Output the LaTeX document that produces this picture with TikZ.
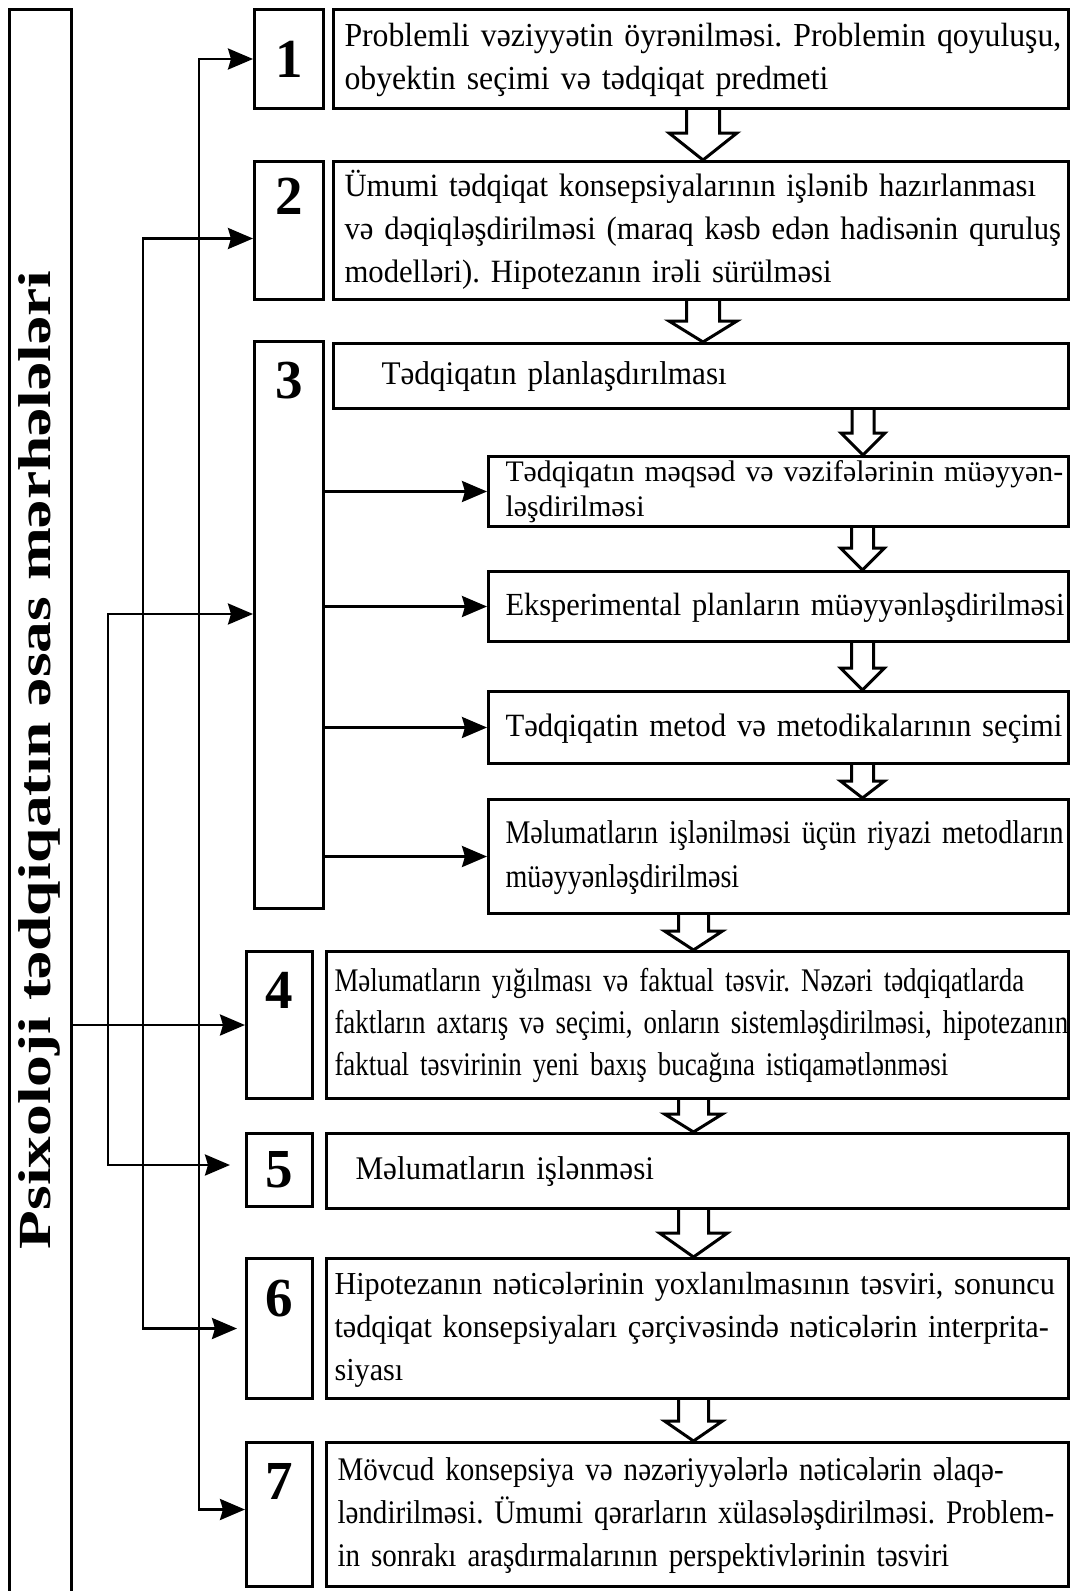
\documentclass[tikz,border=0pt]{standalone}
\usepackage{fontspec}
\setmainfont{Liberation Serif}
\newfontfamily\bodyrm{Liberation Serif}[FakeStretch=0.945]
\newfontfamily\midrm{Liberation Serif}[FakeStretch=0.88]
\newfontfamily\narrowrm{Liberation Serif}[FakeStretch=0.85]
\newfontfamily\tightrm{Liberation Serif}[FakeStretch=0.815]
\newfontfamily\titlerm{Liberation Serif}[FakeStretch=1.38]
\usetikzlibrary{arrows.meta,positioning,calc}
\tikzset{
  numbox/.style  = {draw, line width=3pt, anchor=north west, minimum width=69pt,
                    inner sep=0pt},
  numtxt/.style  = {font=\fontsize{55}{55}\selectfont\bfseries, inner sep=0pt},
  txtbox/.style  = {draw, line width=3pt, anchor=north west, align=left,
                    inner xsep=11pt, inner ysep=0pt,
                    font=\bodyrm\fontsize{33}{43}\selectfont},
  subbox/.style  = {txtbox, inner xsep=17pt, text width=546pt, minimum width=580pt},
  sig/.style     = {-{Stealth[length=25pt,width=21pt,inset=3pt]}, line width=2.7pt},
  hollow/.style  = {line width=3pt, line join=miter},
}
\frenchspacing
% lines of a box, kept as typed
\newcommand{\stagetext}[1]{\begin{tabular}{@{}l@{}}#1\end{tabular}}
% hollow block arrow between two boxes: top point, bottom point, half shaft, half head, head length
\newcommand{\hollowdown}[5]{%
  \draw[hollow] let \p1=(#1), \p2=(#2) in
    (\x1-#3,\y1) -- (\x1-#3,\y2+#5) -- (\x1-#4,\y2+#5) -- (\x1,\y2)
    -- (\x1+#4,\y2+#5) -- (\x1+#3,\y2+#5) -- (\x1+#3,\y1);}

\begin{document}
\begin{tikzpicture}[x=1pt,y=-1pt]
\useasboundingbox (0,0) rectangle (1071,1591);
% ---------- title column ----------
\node[draw, line width=3pt, anchor=north west, minimum width=62pt,
      minimum height=1640pt, inner sep=0pt] (frame) at (8,8) {};
\node[rotate=90, font=\titlerm\fontsize{46}{46}\selectfont\bfseries] (title) at (39,760)
  {Psixoloji tədqiqatın əsas mərhələləri};
% ---------- stage numbers ----------
\node[numbox, minimum height=99pt]  (N1) at (253,8) {};
\node[numbox, minimum height=138pt] (N2) at (253,160) {};
\node[numbox, minimum height=567pt] (N3) at (253,340) {};
\node[numbox, minimum height=147pt, minimum width=66pt] (N4) at (245,950) {};
\node[numbox, minimum height=73pt,  minimum width=66pt] (N5) at (245,1132) {};
\node[numbox, minimum height=140pt, minimum width=66pt] (N6) at (245,1257) {};
\node[numbox, minimum height=144pt, minimum width=66pt] (N7) at (245,1441) {};
\node[numtxt] (d1) at (N1.center) {1};
\node[numtxt, below=18pt of N2.north] (d2) {2};
\node[numtxt, below=22pt of N3.north] (d3) {3};
\node[numtxt, below=22pt of N4.north] (d4) {4};
\node[numtxt] (d5) at (N5.center) {5};
\node[numtxt, below=23pt of N6.north] (d6) {6};
\node[numtxt, below=22pt of N7.north] (d7) {7};
% ---------- stage texts ----------
\node[txtbox, text width=713pt, minimum width=735pt, minimum height=99pt,
      font=\bodyrm\fontsize{33.6}{43}\selectfont] (T1) at (332,8)
  {\stagetext{Problemli vəziyyətin öyrənilməsi. Problemin qoyuluşu,\\
   obyektin seçimi və tədqiqat predmeti}};
\node[txtbox, text width=713pt, minimum width=735pt, minimum height=138pt,
      font=\bodyrm\fontsize{32.5}{43}\selectfont] (T2) at (332,160)
  {\stagetext{Ümumi tədqiqat konsepsiyalarının işlənib hazırlanması\\
   və dəqiqləşdirilməsi (maraq kəsb edən hadisənin quruluş\\
   modelləri). Hipotezanın irəli sürülməsi}};
\node[txtbox, text width=713pt, minimum width=735pt, minimum height=65pt] (T3) at (332,342)
  {\stagetext{\hspace*{37pt}Tədqiqatın planlaşdırılması}};
\node[subbox, minimum height=68pt, font=\fontsize{29.8}{35}\selectfont] (S1) at (487,455)
  {\stagetext{Tədqiqatın məqsəd və vəzifələrinin müəyyən-\\ləşdirilməsi}};
\node[subbox, minimum height=70pt, font=\bodyrm\fontsize{32.2}{43}\selectfont] (S2) at (487,570)
  {\stagetext{Eksperimental planların müəyyənləşdirilməsi}};
\node[subbox, minimum height=72pt, font=\bodyrm\fontsize{32.5}{43}\selectfont] (S3) at (487,690)
  {\stagetext{Tədqiqatin metod və metodikalarının seçimi}};
\node[subbox, minimum height=114pt, font=\narrowrm\fontsize{33}{44}\selectfont] (S4) at (487,798)
  {\stagetext{Məlumatların işlənilməsi üçün riyazi metodların\\müəyyənləşdirilməsi}};
\node[txtbox, text width=726pt, minimum width=742pt, minimum height=147pt, inner xsep=8pt,
      font=\tightrm\fontsize{33}{42}\selectfont] (T4) at (325,950)
  {\stagetext{Məlumatların yığılması və faktual təsvir. Nəzəri tədqiqatlarda\\
   faktların axtarış və seçimi, onların sistemləşdirilməsi, hipotezanın\\
   faktual təsvirinin yeni baxış bucağına istiqamətlənməsi}};
\node[txtbox, text width=720pt, minimum width=742pt, minimum height=75pt] (T5) at (325,1132)
  {\stagetext{\hspace*{18pt}Məlumatların işlənməsi}};
\node[txtbox, text width=726pt, minimum width=742pt, minimum height=140pt, inner xsep=8pt,
      font=\bodyrm\fontsize{32}{43}\selectfont] (T6) at (325,1257)
  {\stagetext{Hipotezanın nəticələrinin yoxlanılmasının təsviri, sonuncu\\
   tədqiqat konsepsiyaları çərçivəsində nəticələrin interprita-\\
   siyası}};
\node[txtbox, text width=720pt, minimum width=742pt, minimum height=144pt,
      font=\midrm\fontsize{33}{43}\selectfont] (T7) at (325,1441)
  {\stagetext{Mövcud konsepsiya və nəzəriyyələrlə nəticələrin əlaqə-\\
   ləndirilməsi. Ümumi qərarların xülasələşdirilməsi. Problem-\\
   in sonrakı araşdırmalarının perspektivlərinin təsviri}};
% ---------- hollow arrows ----------
\hollowdown{[xshift=2pt]T1.south}{T2.north}{16.5pt}{34pt}{27pt}
\hollowdown{[xshift=2pt]T2.south}{T3.north}{16.5pt}{34pt}{21pt}
\hollowdown{[xshift=162pt]T3.south}{S1.north}{11pt}{22pt}{22pt}
\hollowdown{[xshift=84pt]S1.south}{S2.north}{11pt}{22pt}{22pt}
\hollowdown{[xshift=84pt]S2.south}{S3.north}{11pt}{22pt}{22pt}
\hollowdown{[xshift=84pt]S3.south}{S4.north}{11pt}{22pt}{17pt}
\hollowdown{[xshift=-4pt]T4.north |- S4.south}{T4.north}{15pt}{29pt}{19pt}
\hollowdown{[xshift=-4pt]T4.south}{T5.north}{15pt}{29pt}{18pt}
\hollowdown{[xshift=-4pt]T5.south}{T6.north}{15pt}{34pt}{24pt}
\hollowdown{[xshift=-4pt]T6.south}{T7.north}{15pt}{29pt}{20pt}
% ---------- connectors ----------
\coordinate (bus1) at (199,800);
\coordinate (bus2) at (143,800);
\coordinate (bus3) at (108,900);
\draw[sig] (bus1) |- (N1.west);
\draw[sig] (bus1) |- ([yshift=5pt]N7.west);
\draw[sig] (bus2) |- ([yshift=-8pt]N2.west);
\draw[sig, shorten >=8pt] (bus2) |- (N6.west);
\draw[sig] (bus3) |- ([yshift=11pt]N3.west);
\draw[sig, shorten >=15pt] (bus3) |- ([yshift=5pt]N5.west);
\draw[sig] (frame.east |- N4.west) -- (N4.west);
\foreach \s in {S1,S2,S3,S4}
  \draw[sig] (N3.east |- \s.west) -- (\s.west);
\end{tikzpicture}
\end{document}
